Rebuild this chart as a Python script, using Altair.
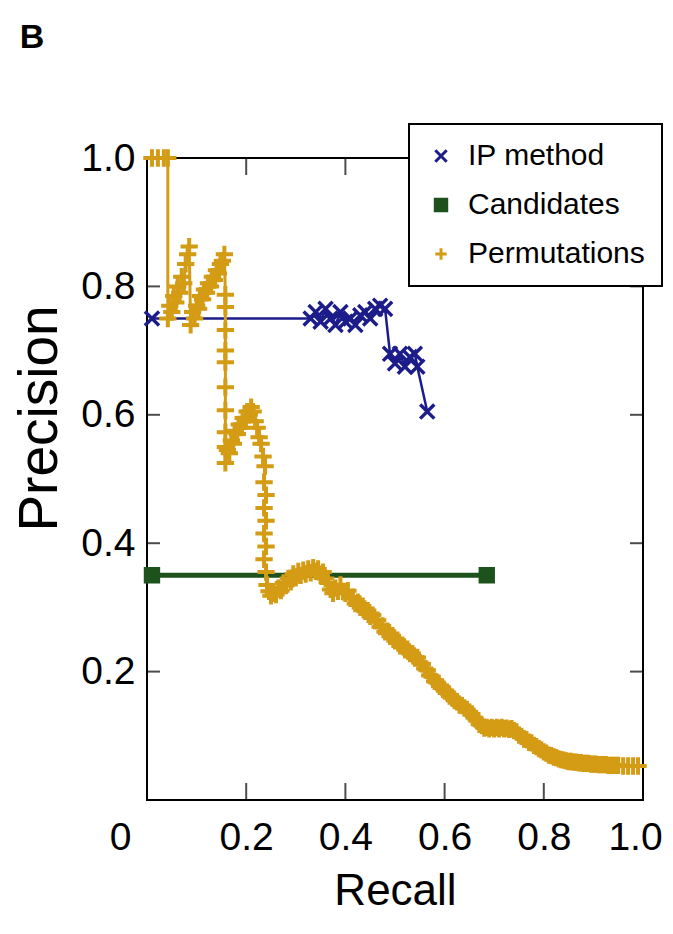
import altair as alt
import pandas as pd

FONT = "Liberation Sans, Arial, Helvetica, sans-serif"

SERIES = ["IP method", "Candidates", "Permutations"]
COLORS = ["#1c1c8a", "#1d521d", "#d49b14"]
FILLS = ["transparent", "#1d521d", "transparent"]
SHAPES = ["M-1,-1L1,1M-1,1L1,-1", "square", "M-1,0L1,0M0,-1L0,1"]
LINE_WIDTHS = [2.5, 5, 3]
POINT_SIZES = [200, 190, 300]
POINT_STROKES = [3.4, 2.6, 4]

ip_recall = [0.01, 0.33, 0.34, 0.35, 0.36, 0.37, 0.38, 0.39, 0.40, 0.41, 0.42, 0.43,
             0.44, 0.45, 0.46, 0.47, 0.48, 0.49, 0.50, 0.51, 0.52, 0.53, 0.54, 0.545, 0.565]
ip_precision = [0.75, 0.75, 0.76, 0.745, 0.765, 0.75, 0.74, 0.76, 0.745, 0.75, 0.74, 0.755,
                0.76, 0.75, 0.765, 0.77, 0.765, 0.695, 0.68, 0.695, 0.675, 0.69, 0.695, 0.675, 0.605]

cand_recall = [0.01, 0.685]
cand_precision = [0.35, 0.35]

perm_recall = [
    0.010, 0.022, 0.034, 0.042,
    0.042, 0.046, 0.050, 0.054, 0.058, 0.062, 0.066, 0.070, 0.074, 0.078, 0.082, 0.085,
    0.088, 0.092, 0.096, 0.100, 0.104, 0.108, 0.112, 0.116, 0.120, 0.124, 0.128, 0.132,
    0.136, 0.140, 0.144, 0.148, 0.152, 0.156,
    0.158, 0.158, 0.158, 0.158, 0.158, 0.158, 0.158, 0.158, 0.158, 0.158,
    0.162, 0.166, 0.170, 0.174, 0.178, 0.182, 0.186, 0.190, 0.194, 0.198, 0.202, 0.206,
    0.210, 0.214, 0.218, 0.222, 0.226, 0.230, 0.234, 0.238,
    0.236, 0.240, 0.236, 0.240, 0.236, 0.240, 0.236, 0.240, 0.242, 0.246,
    0.250, 0.255, 0.260, 0.265, 0.270, 0.275, 0.280, 0.285, 0.290, 0.295, 0.300, 0.305,
    0.310, 0.315, 0.320, 0.325, 0.330, 0.335, 0.340, 0.345, 0.350, 0.355, 0.360, 0.365,
    0.370, 0.375, 0.380, 0.385, 0.390, 0.395,
    0.400, 0.405, 0.410, 0.415, 0.420, 0.425, 0.430, 0.435, 0.440, 0.445, 0.450, 0.455,
    0.460, 0.465, 0.470, 0.475, 0.480, 0.485, 0.490, 0.495, 0.500, 0.505, 0.510, 0.515,
    0.520, 0.525, 0.530, 0.535, 0.540, 0.545, 0.550, 0.555, 0.560, 0.565, 0.570, 0.575,
    0.580, 0.585, 0.590, 0.595, 0.600, 0.605, 0.610, 0.615, 0.620, 0.625, 0.630, 0.635,
    0.640, 0.645, 0.650, 0.655, 0.660, 0.665, 0.670, 0.675, 0.680, 0.685, 0.690, 0.695,
    0.700, 0.705, 0.710, 0.715, 0.720, 0.725, 0.730, 0.735, 0.740, 0.745, 0.750, 0.755,
    0.760, 0.765, 0.770, 0.775, 0.780, 0.785, 0.790, 0.795, 0.800, 0.805, 0.810, 0.815,
    0.820, 0.825, 0.830, 0.835, 0.840, 0.845, 0.850, 0.855, 0.860, 0.865, 0.870, 0.875,
    0.880, 0.885, 0.890, 0.895, 0.900, 0.905, 0.910, 0.915, 0.920, 0.925, 0.930, 0.935,
    0.940, 0.945, 0.950, 0.960, 0.970, 0.980, 0.990,
]
perm_precision = [
    1.000, 1.000, 1.000, 1.000,
    0.750, 0.770, 0.760, 0.785, 0.775, 0.800, 0.790, 0.815, 0.805, 0.835, 0.850, 0.862,
    0.740, 0.760, 0.750, 0.770, 0.765, 0.785, 0.780, 0.795, 0.790, 0.805, 0.800, 0.815,
    0.810, 0.825, 0.820, 0.835, 0.840, 0.850,
    0.787, 0.768, 0.732, 0.700, 0.682, 0.643, 0.607, 0.573, 0.550, 0.525,
    0.545, 0.540, 0.560, 0.555, 0.575, 0.570, 0.585, 0.580, 0.595, 0.590, 0.605, 0.600,
    0.612, 0.605, 0.590, 0.580, 0.565, 0.555, 0.535, 0.520,
    0.495, 0.475, 0.455, 0.435, 0.415, 0.395, 0.375, 0.355, 0.335, 0.325,
    0.318, 0.322, 0.320, 0.330, 0.326, 0.338, 0.334, 0.345, 0.340, 0.352, 0.346, 0.356,
    0.350, 0.358, 0.352, 0.360, 0.354, 0.362, 0.356, 0.360, 0.350, 0.355, 0.345, 0.338,
    0.328, 0.322, 0.330, 0.325, 0.335, 0.325,
    0.322, 0.326, 0.314, 0.316, 0.306, 0.308, 0.300, 0.302, 0.294, 0.295, 0.286, 0.288,
    0.279, 0.280, 0.270, 0.271, 0.262, 0.263, 0.255, 0.256, 0.248, 0.249, 0.240, 0.241,
    0.234, 0.235, 0.228, 0.228, 0.221, 0.222, 0.214, 0.212, 0.205, 0.202, 0.194, 0.192,
    0.185, 0.183, 0.177, 0.176, 0.170, 0.168, 0.162, 0.160, 0.155, 0.153, 0.148, 0.147,
    0.143, 0.141, 0.137, 0.134, 0.128, 0.124, 0.118, 0.116, 0.112, 0.113, 0.111, 0.113,
    0.111, 0.113, 0.111, 0.113, 0.111, 0.112, 0.110, 0.111, 0.108, 0.106, 0.101, 0.099,
    0.095, 0.094, 0.090, 0.089, 0.085, 0.083, 0.080, 0.078, 0.075, 0.073, 0.070, 0.069,
    0.067, 0.066, 0.064, 0.063, 0.062, 0.061, 0.060, 0.060, 0.059, 0.059, 0.058, 0.058,
    0.057, 0.057, 0.057, 0.056, 0.056, 0.056, 0.055, 0.055, 0.055, 0.055, 0.054, 0.054,
    0.054, 0.054, 0.054, 0.053, 0.053, 0.053, 0.053,
]

x_tick_values = [0.2, 0.4, 0.6, 0.8]
y_tick_values = [0.2, 0.4, 0.6, 0.8]
x_label_values = [0, 0.2, 0.4, 0.6, 0.8, 1.0]
y_label_values = [0.2, 0.4, 0.6, 0.8, 1.0]

W, H = 496, 642

series_data = {
    "IP method": (ip_recall, ip_precision),
    "Candidates": (cand_recall, cand_precision),
    "Permutations": (perm_recall, perm_precision),
}

frames = {}
for name, (rs, ps) in series_data.items():
    frames[name] = pd.DataFrame({
        "series": name, "recall": rs, "precision": ps, "i": list(range(len(rs)))
    })

x_scale = alt.Scale(domain=[0, 1], nice=False, zero=False)
y_scale = alt.Scale(domain=[0, 1], nice=False, zero=False)

x_axis = alt.Axis(
    title="Recall", values=x_label_values,
    labelExpr="datum.value == 0 ? '0' : format(datum.value, '.1f')",
    labelFlush=False,
    labelOffset={"condition": [{"test": "datum.value == 0", "value": -27},
                               {"test": "datum.value == 1", "value": -8}],
                 "value": 0},
    labelPadding=18, labelFontSize=39, titleFontSize=44,
    titleY=104, titleBaseline="alphabetic",
    ticks=False, domain=False, grid=False,
)
y_axis = alt.Axis(
    title="Precision", values=y_label_values, format=".1f",
    labelPadding=12, labelFontSize=39, titleFontSize=55,
    titleX=-108, titleY=260, titleBaseline="middle",
    ticks=False, domain=False, grid=False,
)


def X(field):
    return alt.X(field, scale=x_scale, axis=x_axis)


def Y(field):
    return alt.Y(field, scale=y_scale, axis=y_axis)


layers = []
for k, name in enumerate(SERIES):
    df = frames[name]
    line = alt.Chart(df).mark_line(
        color=COLORS[k], strokeWidth=LINE_WIDTHS[k], strokeJoin="round"
    ).encode(x=X("recall:Q"), y=Y("precision:Q"), order="i:Q")
    pts = alt.Chart(df).mark_point(
        filled=False, size=POINT_SIZES[k], strokeWidth=POINT_STROKES[k], opacity=1
    ).encode(
        x=X("recall:Q"),
        y=Y("precision:Q"),
        color=alt.Color("series:N", scale=alt.Scale(domain=SERIES, range=COLORS), title=None),
        shape=alt.Shape("series:N", scale=alt.Scale(domain=SERIES, range=SHAPES), title=None),
        fill=alt.Fill("series:N", scale=alt.Scale(domain=SERIES, range=FILLS), title=None),
    )
    layers += [line, pts]

ytick_df = pd.DataFrame({"v": y_tick_values})
xtick_df = pd.DataFrame({"v": x_tick_values})

tick_left = alt.Chart(ytick_df).mark_tick(orient="horizontal", size=13, thickness=2, color="black").encode(
    y=Y("v:Q"), x=alt.value(6.5))
tick_right = alt.Chart(ytick_df).mark_tick(orient="horizontal", size=13, thickness=2, color="black").encode(
    y=Y("v:Q"), x=alt.value(W - 6.5))
tick_bottom = alt.Chart(xtick_df).mark_tick(orient="vertical", size=17, thickness=2, color="black").encode(
    x=X("v:Q"), y=alt.value(H - 8.5))
tick_top = alt.Chart(xtick_df).mark_tick(orient="vertical", size=17, thickness=2, color="black").encode(
    x=X("v:Q"), y=alt.value(8.5))

panel_label = alt.Chart(pd.DataFrame({"t": ["B"]})).mark_text(
    font=FONT, fontSize=34, fontWeight="bold", align="center", baseline="middle", color="black"
).encode(text="t:N", x=alt.value(-115), y=alt.value(-120))

chart = alt.layer(
    *layers, tick_left, tick_right, tick_bottom, tick_top, panel_label
).properties(
    width=W, height=H,
    padding={"left": 139, "top": 150, "right": 22, "bottom": 126},
    autosize=alt.AutoSizeParams(type="none"),
).configure_view(
    stroke="black", strokeWidth=2
).configure_axis(
    labelFont=FONT, titleFont=FONT, labelColor="black", titleColor="black",
    titleFontWeight="normal",
).configure_legend(
    orient="none", legendX=262, legendY=-34,
    strokeColor="black", strokeWidth=2, fillColor="white",
    padding=17, rowPadding=19, labelFontSize=30, labelFont=FONT, labelColor="black",
    labelLimit=400,
    symbolSize=130, symbolStrokeWidth=3, labelOffset=12, cornerRadius=0,
)

chart.save("out.html", embed_options={"renderer": "svg", "actions": False})
